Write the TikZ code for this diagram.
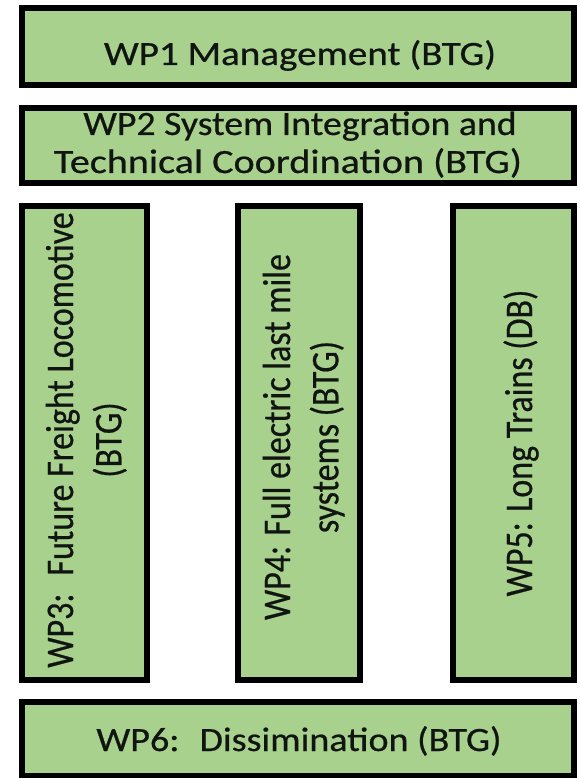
\documentclass[tikz,border=0pt]{standalone}
\usepackage{fontspec}
\usepackage{graphicx}
\setmainfont[FakeBold=0.6]{Carlito}
\definecolor{wpgreen}{HTML}{A9D18E}
\definecolor{wptext}{HTML}{111511}
\tikzset{
  wpbox/.style={draw=black, line width=6pt, fill=wpgreen, inner sep=0pt, outer sep=0pt},
  wplabel/.style={inner sep=0pt, text=wptext, font=\fontsize{34}{38}\selectfont, anchor=base},
  wpvlabel/.style={inner sep=0pt, text=wptext, font=\fontsize{34}{42}\selectfont, anchor=base, rotate=90}
}
\begin{document}
\begin{tikzpicture}[x=1pt, y=-1pt]
  \fill[white] (0,0) rectangle (580,778);
  \useasboundingbox (0,0) rectangle (580,778);
  % boxes
  \node[wpbox, minimum width=552pt, minimum height=77pt] (wp1) at (298,46.5) {};
  \node[wpbox, minimum width=552pt, minimum height=75pt] (wp2) at (298,145.5) {};
  \node[wpbox, minimum width=125pt, minimum height=474pt] (wp3) at (84.5,443) {};
  \node[wpbox, minimum width=122pt, minimum height=474pt] (wp4) at (299,443) {};
  \node[wpbox, minimum width=121pt, minimum height=474pt] (wp5) at (513.5,443) {};
  \node[wpbox, minimum width=552pt, minimum height=74pt] (wp6) at (298,739) {};
  % labels
  \node[wplabel] (wp1t) at (300,65) {\scalebox{1.15}[1]{WP1 Management (BTG)}};
  \node[wplabel] (wp2t) at (288,135) {\begin{tabular}[t]{@{}c@{}}\hspace*{24pt}\scalebox{1.11}[1]{WP2 System Integration and}\\\scalebox{1.18}[1]{Technical Coordination (BTG)}\end{tabular}};
  \node[wpvlabel] (wp3t) at (73,440) {\scalebox{1}[1.15]{\begin{tabular}[t]{@{}c@{}}WP3:~ Future Freight Locomotive\\(BTG)\end{tabular}}};
  \node[wpvlabel] (wp4t) at (290,437) {\scalebox{1}[1.15]{\begin{tabular}[t]{@{}c@{}}WP4: Full electric last mile\\systems (BTG)\end{tabular}}};
  \node[wpvlabel] (wp5t) at (532,443) {\scalebox{1}[1.15]{WP5: Long Trains (DB)}};
  \node[wplabel] (wp6t) at (299,751) {\scalebox{1.12}[1]{WP6:~ Dissimination (BTG)}};
\end{tikzpicture}
\end{document}
